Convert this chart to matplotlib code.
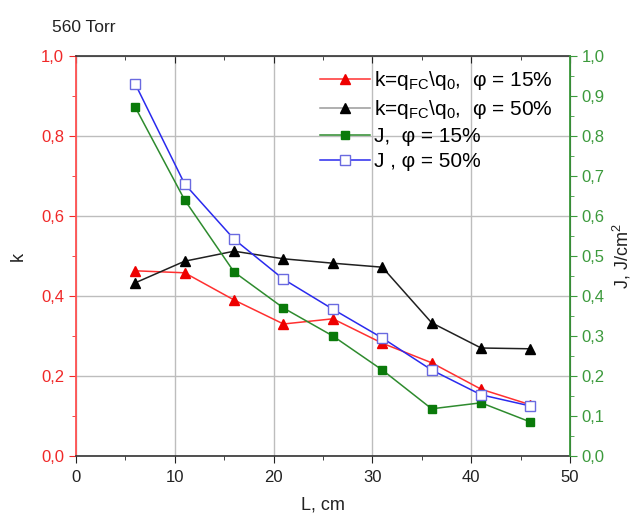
import matplotlib
matplotlib.use("Agg")
import matplotlib.pyplot as plt
from matplotlib.ticker import MultipleLocator, FuncFormatter

plt.rcParams['font.family'] = ['Liberation Sans', 'DejaVu Sans']
plt.rcParams['mathtext.fontset'] = 'custom'
plt.rcParams['mathtext.rm'] = 'Liberation Sans'
plt.rcParams['mathtext.it'] = 'Liberation Sans'

# Distance from the source, cm
L_cm = [6, 11, 16, 21, 26, 31, 36, 41, 46]
# Ratio k = q_FC / q_0
k_phi15 = [0.463, 0.458, 0.390, 0.330, 0.343, 0.282, 0.233, 0.167, 0.128]
k_phi50 = [0.433, 0.487, 0.512, 0.493, 0.482, 0.472, 0.333, 0.270, 0.268]
# Energy density J, J/cm^2
J_phi15 = [0.872, 0.640, 0.460, 0.370, 0.300, 0.215, 0.118, 0.133, 0.085]
J_phi50 = [0.930, 0.680, 0.542, 0.442, 0.367, 0.295, 0.215, 0.153, 0.125]

RED = '#f02828'
GREEN = '#3c9a3c'
BLUE = '#2a2aee'
BLACK = '#202020'

fig = plt.figure(figsize=(6.35, 5.15), dpi=100)
ax = fig.add_axes([76/635, 59/515, 494/635, 400/515])
ax2 = ax.twinx()

comma = FuncFormatter(lambda v, p: f"{v:.1f}".replace('.', ','))

h1, = ax.plot(L_cm, k_phi15, color='#ff3030', lw=1.1, marker='^', ms=7,
              mfc='#ee0000', mec='#ee0000', label=r'k=q$_{FC}$\q$_0$,  φ = 15%')
h2, = ax.plot(L_cm, k_phi50, color=BLACK, lw=1.1, marker='^', ms=7,
              mfc='black', mec='black', label=r'k=q$_{FC}$\q$_0$,  φ = 50%')
h3, = ax2.plot(L_cm, J_phi15, color='#2e8b2e', lw=1.1, marker='s', ms=5.5,
               mfc='#0a7a0a', mec='#0a7a0a', label='J,  φ = 15%')
h4, = ax2.plot(L_cm, J_phi50, color=BLUE, lw=1.1, marker='s', ms=6.5,
               mfc='white', mec='#6a6ae0', mew=1.0, label='J , φ = 50%')

ax.set_xlim(0, 50)
ax.set_ylim(0, 1.0)
ax2.set_ylim(0, 1.0)

ax.xaxis.set_major_locator(MultipleLocator(10))
ax.xaxis.set_minor_locator(MultipleLocator(5))
ax.yaxis.set_major_locator(MultipleLocator(0.2))
ax.yaxis.set_minor_locator(MultipleLocator(0.1))
ax2.yaxis.set_major_locator(MultipleLocator(0.1))
ax2.yaxis.set_minor_locator(MultipleLocator(0.05))
ax.yaxis.set_major_formatter(comma)
ax2.yaxis.set_major_formatter(comma)

ax.grid(True, which='major', color='#bdbdbd', lw=1.0)
ax.set_axisbelow(True)

ax.tick_params(axis='x', which='both', direction='out', top=True,
               labelsize=12, colors='#222222')
ax.tick_params(axis='x', which='major', length=5, pad=5)
ax.tick_params(axis='x', which='minor', length=3)
ax.tick_params(axis='y', which='major', length=5, direction='out',
               colors=RED, labelsize=12)
ax.tick_params(axis='y', which='minor', length=3, direction='out', colors=RED)
ax2.tick_params(axis='y', which='major', length=5, direction='out',
                colors=GREEN, labelsize=12)
ax2.tick_params(axis='y', which='minor', length=3, direction='out', colors=GREEN)

ax.spines['left'].set_color('#ff5050')
ax.spines['left'].set_linewidth(1.3)
ax2.spines['right'].set_color(GREEN)
ax2.spines['right'].set_linewidth(1.3)
ax2.spines['left'].set_visible(False)
for s in ('top', 'bottom'):
    ax.spines[s].set_color('#333333')
    ax.spines[s].set_linewidth(1.2)
ax2.spines['top'].set_visible(False)
ax2.spines['bottom'].set_visible(False)

# top ticks drawn inward
for t in ax.xaxis.get_major_ticks() + ax.xaxis.get_minor_ticks():
    t.tick2line.set_marker(3)

ax.set_xlabel('L, cm', fontsize=13, color='#222222', labelpad=8)
ax.set_ylabel('k', fontsize=13, color='#222222', labelpad=10)
ax2.set_ylabel('J, J/cm$^2$', fontsize=13, color='#222222', labelpad=4)

fig.text(52/635, 1 - 28/515, '560 Torr', fontsize=12.5, color='#222222',
         va='center', ha='left')

leg = ax2.legend(handles=[h1, h2, h3, h4], loc='upper right',
                 bbox_to_anchor=(0.99, 0.998), frameon=False, fontsize=15,
                 handlelength=2.4, handletextpad=0.2, labelspacing=0.28,
                 borderaxespad=0.2)
leg.get_lines()[1].set_color('#9a9a9a')
leg.get_lines()[1].set_markerfacecolor('black')
leg.get_lines()[1].set_markeredgecolor('black')

fig.savefig('out.png', dpi=100)
